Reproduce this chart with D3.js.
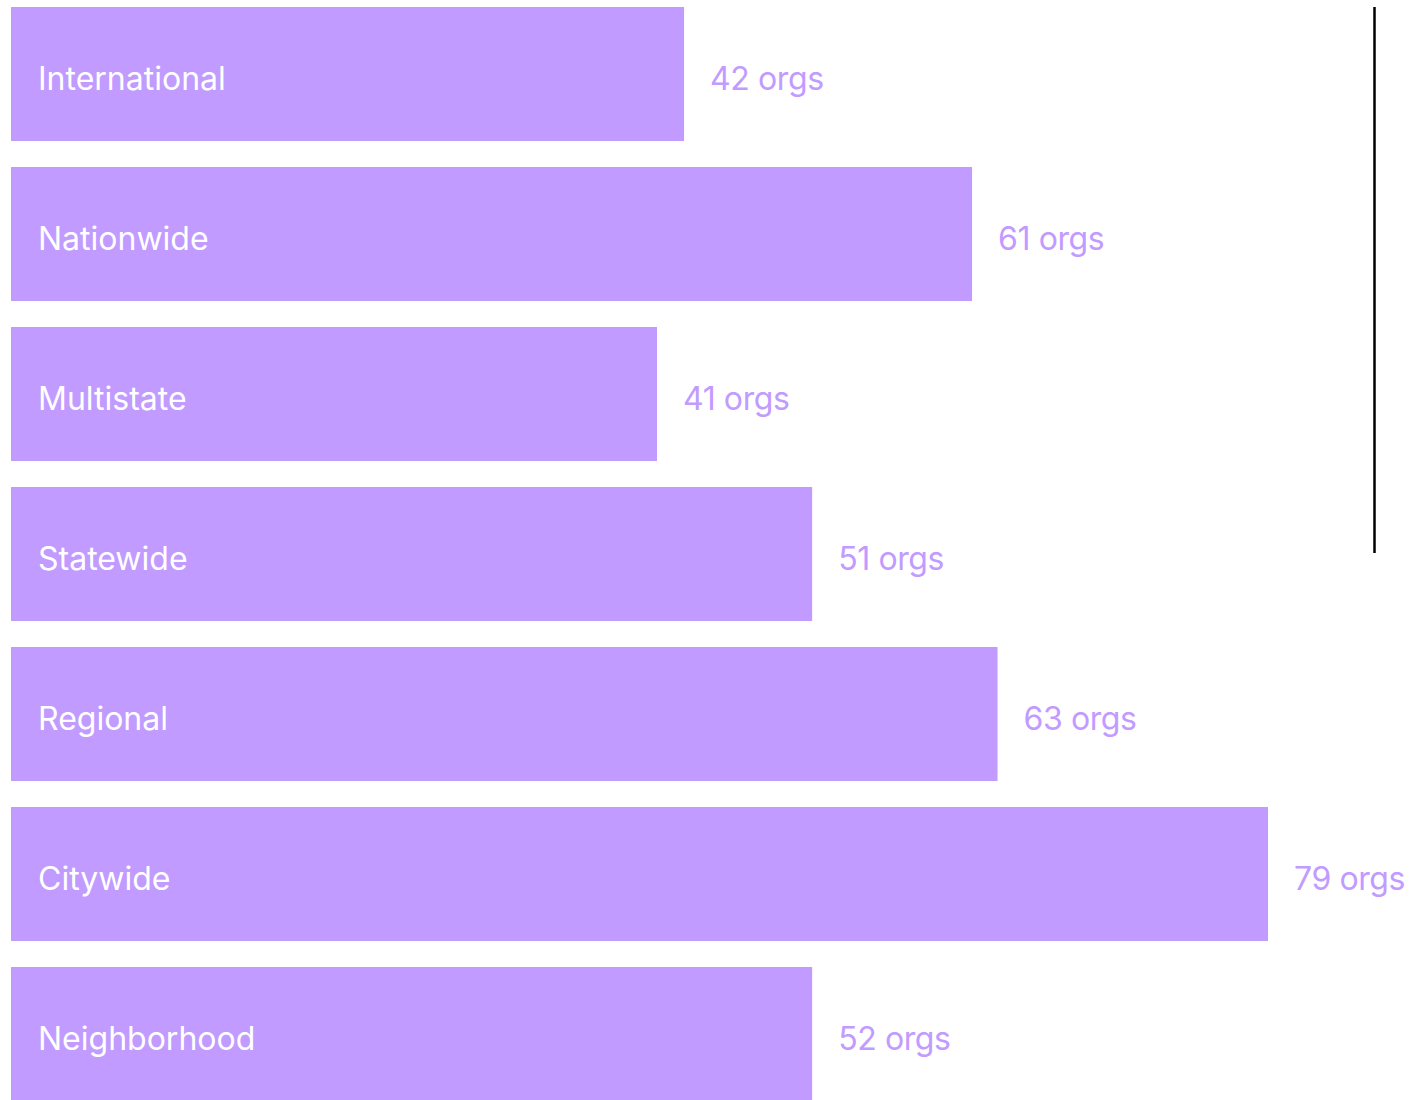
<!DOCTYPE html>
<html>
<head>
	<meta charset="utf-8">
	<title>Organizations by scope</title>
	<script src="https://cdn.jsdelivr.net/npm/d3@7"></script>
	<style>
		body {
			margin: 0;
			background: #fff;
		}
		svg text {
			font-family: Inter, "Noto Sans", sans-serif;
		}
		svg text.value {
			letter-spacing: -0.4px;
		}
	</style>
</head>
<body>
	<div id="chart"></div>
	<script>
		// data
		const categories = ["International", "Nationwide", "Multistate", "Statewide", "Regional", "Citywide", "Neighborhood"];
		const barValues  = [42.3, 60.4, 40.6, 50.35, 62.0, 79, 50.35]; // bar lengths as drawn
		const counts     = [42, 61, 41, 51, 63, 79, 52];               // label numbers

		const width  = 1411;
		const height = 1100;
		const color  = "#c19bff";
		const fontSize = "32px";

		const svg = d3.select("#chart")
			.append("svg")
			.attr("width", width)
			.attr("height", height)
			.attr("viewBox", [0, 0, width, height]);

		const x = d3.scaleLinear()
			.domain([0, 79])
			.range([11, 1268]);

		const y = d3.scaleBand()
			.domain(categories)
			.range([7, 1101])
			.paddingInner(0.1625)
			.paddingOuter(0);

		const rows = svg.append("g")
			.selectAll("g")
			.data(categories)
			.join("g");

		rows.append("rect")
			.attr("x", x(0))
			.attr("y", d => y(d))
			.attr("width", (d, i) => x(barValues[i]) - x(0))
			.attr("height", y.bandwidth())
			.attr("fill", color);

		rows.append("text")
			.attr("x", x(0) + 27)
			.attr("y", d => y(d) + y.bandwidth() / 2)
			.attr("dy", "0.5em")
			.attr("fill", "#fff")
			.style("font-size", fontSize)
			.text(d => d);

		rows.append("text")
			.attr("class", "value")
			.attr("x", (d, i) => x(barValues[i]) + 26)
			.attr("y", d => y(d) + y.bandwidth() / 2)
			.attr("dy", "0.5em")
			.attr("fill", color)
			.style("font-size", fontSize)
			.text((d, i) => `${counts[i]} orgs`);

		// vertical rule on the right
		svg.append("line")
			.attr("x1", 1374.5)
			.attr("x2", 1374.5)
			.attr("y1", y(categories[0]))
			.attr("y2", 553)
			.attr("stroke", "#000")
			.attr("stroke-width", 2.5);
	</script>
</body>
</html>
